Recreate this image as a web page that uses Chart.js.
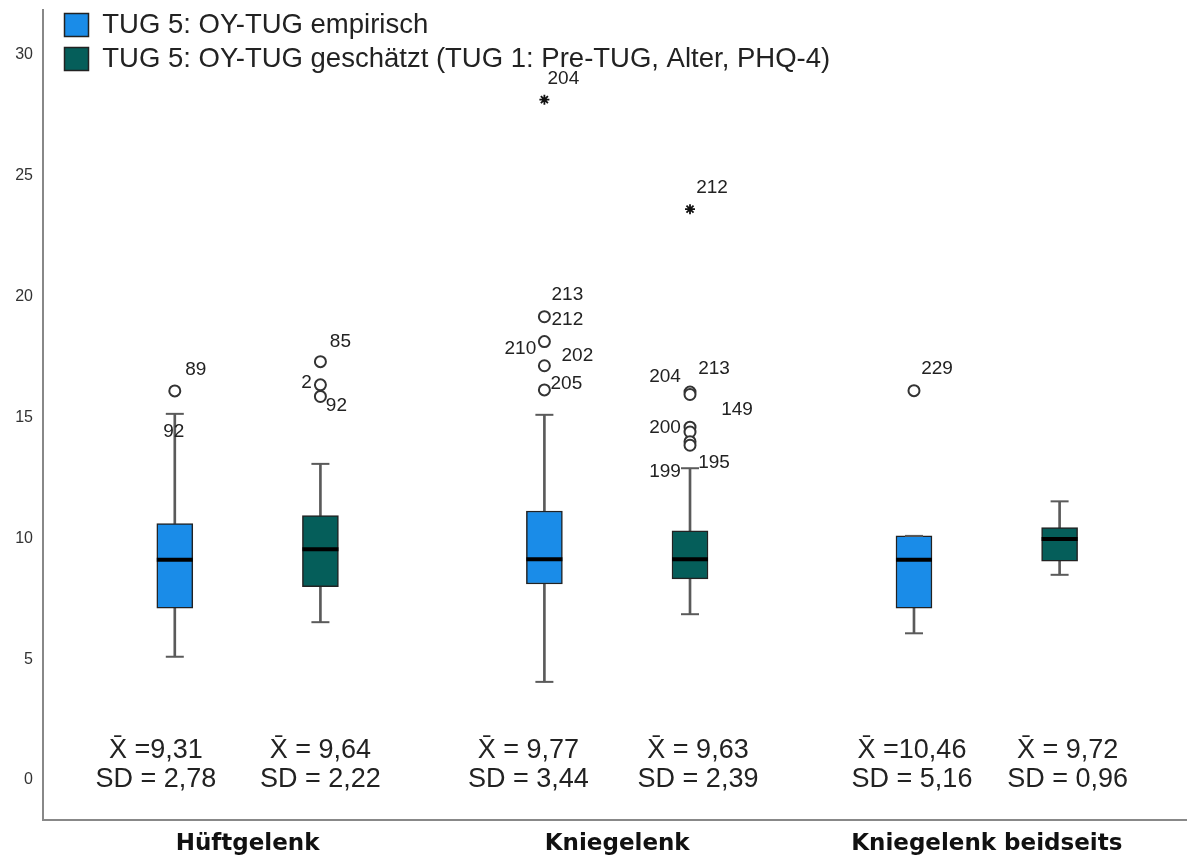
<!DOCTYPE html>
<html>
<head>
<meta charset="utf-8">
<script src="https://cdn.jsdelivr.net/npm/chart.js@4"></script>
<style>
  body { margin: 0; background: #fff; }
</style>
</head>
<body>
<canvas id="chart" width="1187" height="860"></canvas>
<script>
// Categories and series names
const categories = ['Hüftgelenk', 'Kniegelenk', 'Kniegelenk beidseits'];
const seriesNames = ['TUG 5: OY-TUG empirisch', 'TUG 5: OY-TUG geschätzt (TUG 1: Pre-TUG, Alter, PHQ-4)'];
const yTicks = [0, 5, 10, 15, 20, 25, 30];

// Box statistics, empirisch
const empLow = [5.10, 4.06, 6.07];
const empQ1 = [7.11, 8.11, 7.11];
const empMedian = [9.11, 9.13, 9.11];
const empQ3 = [10.61, 11.13, 10.10];
const empHigh = [15.15, 15.11, 10.10];
const empOutliers = [[16.1], [19.17, 18.14, 17.14, 16.14], [16.11]];
const empExtremes = [[], [28.15], []];

// Box statistics, geschätzt
const estLow = [6.53, 6.86, 8.49];
const estQ1 = [8.00, 8.32, 9.05];
const estMedian = [9.55, 9.13, 9.97];
const estQ3 = [10.94, 10.31, 10.44];
const estHigh = [13.08, 12.90, 11.53];
const estOutliers = [[17.31, 16.35, 15.87], [16.05, 15.95, 14.6, 14.4, 14.0, 13.85], []];
const estExtremes = [[], [23.62], []];

// Mean / SD texts under the boxes
const empStats = [['X\u0304 =9,31', 'SD = 2,78'], ['X\u0304 = 9,77', 'SD = 3,44'], ['X\u0304 =10,46', 'SD = 5,16']];
const estStats = [['X\u0304 = 9,64', 'SD = 2,22'], ['X\u0304 = 9,63', 'SD = 2,39'], ['X\u0304 = 9,72', 'SD = 0,96']];

// Case labels: [group, value, text]
const empCaseLabels = [[0, 16.1, '89'], [0, 15.15, '92'], [1, 19.17, '213'], [1, 19.17, '212'], [1, 18.14, '210'],
  [1, 17.14, '202'], [1, 16.14, '205'], [1, 28.15, '204'], [2, 16.11, '229']];
const estCaseLabels = [[0, 17.31, '85'], [0, 16.35, '2'], [0, 15.87, '92'], [1, 23.62, '212'], [1, 16.05, '204'],
  [1, 16.05, '213'], [1, 15.95, '149'], [1, 14.6, '200'], [1, 12.9, '199'], [1, 12.9, '195']];

// Label offsets in pixels (style only)
const empLabelOffsets = [[21, -21], [-1, 18], [23, -22], [23, 3], [-24, 7], [33, -10], [22, -6], [19, -21], [23, -22]];
const estLabelOffsets = [[20, -20], [-14, -2], [16, 9], [22, -21], [-25, -15], [24, -23], [47, 15], [-25, 1], [-25, 4], [24, -5]];
const empStatsNudge = [-19, -16, -2];
const estStatsNudge = [0, 8, 8];

const BLUE = '#1a8ce8';
const GREEN = '#055e5a';
const SHIFT = 0.197;

Chart.defaults.font.family = '"Liberation Sans", Arial, sans-serif';

// Build box pieces for one series
function boxes(q1, q3, dx) {
  return q1.map((v, i) => ({ x: i + dx, y: [v, q3[i]] }));
}
function whiskers(lo, q1, q3, hi, dx) {
  const out = [];
  lo.forEach((v, i) => {
    out.push({ x: i + dx, y: [v, q1[i]] });
    out.push({ x: i + dx, y: [q3[i], hi[i]] });
  });
  return out;
}
function caps(lo, hi, dx) {
  const out = [];
  lo.forEach((v, i) => {
    out.push({ x: i + dx, y: v });
    out.push({ x: i + dx, y: hi[i] });
  });
  return out;
}
function points(values, dx) {
  return values.map((v, i) => ({ x: i + dx, y: v }));
}
function flatPoints(groups, dx) {
  const out = [];
  groups.forEach((g, i) => g.forEach(v => out.push({ x: i + dx, y: v })));
  return out;
}

// Put the legend inside the plot area, top left
const legendShift = {
  id: 'legendShift',
  afterLayout(chart) {
    chart.legend.left = chart.chartArea.left + 15;
    chart.legend.top = chart.chartArea.top - 5.25;
  }
};

// Draw mean/SD texts and case labels
const textPlugin = {
  id: 'texts',
  afterDatasetsDraw(chart) {
    const { ctx, scales: { x, y }, chartArea } = chart;
    ctx.save();
    ctx.fillStyle = '#222';
    ctx.textAlign = 'center';
    ctx.textBaseline = 'middle';

    ctx.font = '19px "Liberation Sans", Arial, sans-serif';
    empCaseLabels.forEach((l, k) => {
      const o = empLabelOffsets[k];
      ctx.fillText(l[2], x.getPixelForValue(l[0] - SHIFT) + o[0], y.getPixelForValue(l[1]) + o[1]);
    });
    estCaseLabels.forEach((l, k) => {
      const o = estLabelOffsets[k];
      ctx.fillText(l[2], x.getPixelForValue(l[0] + SHIFT) + o[0], y.getPixelForValue(l[1]) + o[1]);
    });

    ctx.font = '27px "Liberation Sans", Arial, sans-serif';
    [[empStats, -SHIFT, empStatsNudge], [estStats, SHIFT, estStatsNudge]].forEach(([stats, dx, nudge]) => {
      stats.forEach((s, i) => {
        const px = x.getPixelForValue(i + dx) + nudge[i];
        ctx.fillText(s[0], px, chartArea.bottom - 69);
        ctx.fillText(s[1], px, chartArea.bottom - 40);
      });
    });
    ctx.restore();
  }
};

const chart = new Chart('chart', {
  type: 'bar',
  data: {
    datasets: [{
      label: seriesNames[0],
      data: boxes(empQ1, empQ3, -SHIFT),
      backgroundColor: BLUE,
      borderColor: '#222',
      borderWidth: 1.5,
      borderSkipped: false,
      barThickness: 36,
      grouped: false,
      order: 2
    }, {
      label: seriesNames[1],
      data: boxes(estQ1, estQ3, SHIFT),
      backgroundColor: GREEN,
      borderColor: '#222',
      borderWidth: 1.5,
      borderSkipped: false,
      barThickness: 36,
      grouped: false,
      order: 2
    }, {
      label: 'whiskers',
      data: whiskers(empLow, empQ1, empQ3, empHigh, -SHIFT).concat(whiskers(estLow, estQ1, estQ3, estHigh, SHIFT)),
      backgroundColor: '#5a5a5a',
      borderWidth: 0,
      barThickness: 2,
      grouped: false,
      order: 3
    }, {
      type: 'scatter',
      label: 'caps',
      data: caps(empLow, empHigh, -SHIFT).concat(caps(estLow, estHigh, SHIFT)),
      pointStyle: 'line',
      radius: 9,
      borderColor: '#5a5a5a',
      borderWidth: 2,
      order: 1
    }, {
      type: 'scatter',
      label: 'medians',
      data: points(empMedian, -SHIFT).concat(points(estMedian, SHIFT)),
      pointStyle: 'line',
      radius: 18,
      borderColor: '#000',
      borderWidth: 4,
      order: 0
    }, {
      type: 'scatter',
      label: 'outliers',
      data: flatPoints(empOutliers, -SHIFT).concat(flatPoints(estOutliers, SHIFT)),
      pointStyle: 'circle',
      radius: 5.5,
      backgroundColor: '#fff',
      borderColor: '#333',
      borderWidth: 2,
      order: 0
    }, {
      type: 'scatter',
      label: 'extremes',
      data: flatPoints(empExtremes, -SHIFT).concat(flatPoints(estExtremes, SHIFT)),
      pointStyle: 'star',
      radius: 5,
      borderColor: '#111',
      borderWidth: 1.8,
      order: 0
    }]
  },
  options: {
    responsive: false,
    animation: false,
    layout: { autoPadding: false, padding: { top: 10, right: 0, left: 0, bottom: 0 } },
    plugins: {
      tooltip: { enabled: false },
      legend: {
        position: 'chartArea',
        align: 'start',
        labels: {
          filter: item => item.datasetIndex < 2,
          boxWidth: 24,
          boxHeight: 23,
          padding: 6.5,
          color: '#222',
          font: { size: 27.5 }
        }
      }
    },
    scales: {
      x: {
        type: 'linear',
        offset: false,
        min: -0.5536,
        max: 2.5417,
        grid: { display: false, drawTicks: false },
        border: { display: true, color: '#888', width: 2 },
        afterBuildTicks: scale => { scale.ticks = categories.map((c, i) => ({ value: i })); },
        afterFit: scale => {
          scale.height = 40;
          scale.paddingLeft = 0;
          scale.paddingRight = 0;
        },
        ticks: {
          padding: 10,
          color: '#111',
          maxRotation: 0,
          autoSkip: false,
          font: { family: '"DejaVu Sans", sans-serif', size: 23, weight: 'bold' },
          callback: v => categories[v]
        }
      },
      y: {
        type: 'linear',
        min: -1.655,
        max: 31.86,
        grid: { display: false, drawTicks: false },
        border: { display: true, color: '#888', width: 2 },
        afterBuildTicks: scale => { scale.ticks = yTicks.map(v => ({ value: v })); },
        afterFit: scale => {
          scale.width = 43;
          scale.paddingTop = 0;
          scale.paddingBottom = 0;
        },
        ticks: {
          padding: 10,
          color: '#333',
          font: { size: 16 }
        }
      }
    }
  },
  plugins: [legendShift, textPlugin]
});
</script>
</body>
</html>
